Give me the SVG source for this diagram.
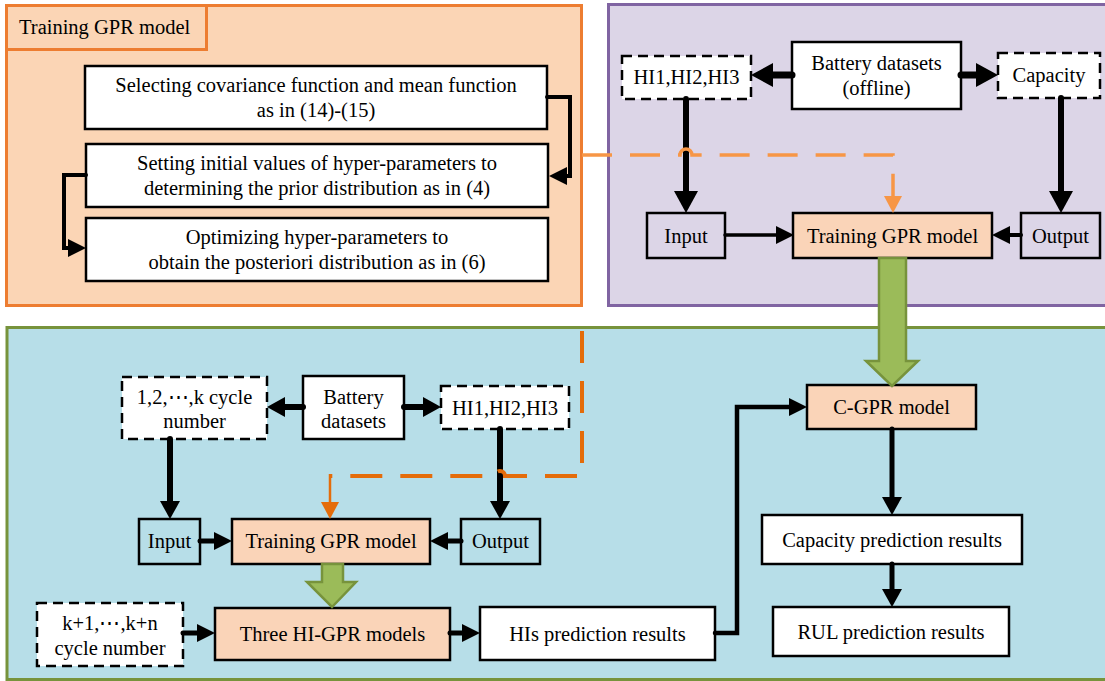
<svg xmlns="http://www.w3.org/2000/svg" width="1105" height="681" viewBox="0 0 1105 681">
<style>
text{font-family:"Liberation Serif","Times New Roman",serif;font-size:20.5px;fill:#000;text-anchor:middle}
.box{fill:#fff;stroke:#000;stroke-width:2.5}
.clear{fill:none;stroke:#000;stroke-width:2.5}
.dash{fill:#fff;stroke:#000;stroke-width:2.5;stroke-dasharray:10 6}
.peach{fill:#FAD4B8;stroke:#000;stroke-width:2.5}
.blk{fill:none;stroke:#000;stroke-linecap:round;stroke-linejoin:miter}
.green{fill:#9BBB59;stroke:#77933C;stroke-width:2.5}
</style>
<defs>
<marker id="mA" viewBox="0 -12 22 24" refX="0" refY="0" markerWidth="22" markerHeight="24" markerUnits="userSpaceOnUse" orient="auto"><path d="M0,-12L22,0L0,12Z" fill="#000"/></marker>
<marker id="mB" viewBox="0 -10 18 20" refX="0" refY="0" markerWidth="18" markerHeight="20" markerUnits="userSpaceOnUse" orient="auto"><path d="M0,-10L18,0L0,10Z" fill="#000"/></marker>
<marker id="mC" viewBox="0 -9 18 18" refX="0" refY="0" markerWidth="18" markerHeight="18" markerUnits="userSpaceOnUse" orient="auto"><path d="M0,-9L18,0L0,9Z" fill="#000"/></marker>
<marker id="mO1" viewBox="0 -9 17 18" refX="0" refY="0" markerWidth="17" markerHeight="18" markerUnits="userSpaceOnUse" orient="auto"><path d="M0,-9L17,0L0,9Z" fill="#F79646"/></marker>
<marker id="mO2" viewBox="0 -9 17 18" refX="0" refY="0" markerWidth="17" markerHeight="18" markerUnits="userSpaceOnUse" orient="auto"><path d="M0,-9L17,0L0,9Z" fill="#E46C0A"/></marker>
</defs>

<g id="panels">
<rect x="6.5" y="5.5" width="575" height="300" fill="#FBD5B5" stroke="#ED7D31" stroke-width="3"/>
<rect x="6.5" y="5.5" width="200" height="44" fill="#FBD5B5" stroke="#ED7D31" stroke-width="3"/>
<text x="19" y="34" style="text-anchor:start">Training GPR model</text>
<rect x="608.5" y="4.5" width="510" height="301" fill="#DCD5E7" stroke="#8064A2" stroke-width="3"/>
<rect x="7" y="327.5" width="1110" height="352" fill="#B7DEE8" stroke="#77933C" stroke-width="3"/>
</g>

<g id="n-select"><rect class="box" x="85" y="66" width="462" height="63"/>
<text x="316" y="92">Selecting covariance function and mean function</text><text x="316" y="117">as in (14)-(15)</text></g>
<g id="n-setting"><rect class="box" x="86" y="144" width="462" height="63"/>
<text x="317" y="170">Setting initial values of hyper-parameters to</text><text x="317" y="195">determining the prior distribution as in (4)</text></g>
<g id="n-optimize"><rect class="box" x="86" y="218" width="462" height="63"/>
<text x="317" y="244">Optimizing hyper-parameters to</text><text x="317" y="269">obtain the posteriori distribution as in (6)</text></g>

<g id="n-battery-off"><rect class="box" x="792" y="42" width="169" height="67"/>
<text x="876.5" y="70">Battery datasets</text><text x="876.5" y="95">(offline)</text></g>
<g id="n-hi-top"><rect class="dash" x="622" y="56" width="129" height="43"/><text x="686.5" y="84">HI1,HI2,HI3</text></g>
<g id="n-capacity"><rect class="dash" x="998" y="53" width="102" height="45"/><text x="1049" y="82">Capacity</text></g>
<g id="n-input-top"><rect class="clear" x="647" y="213" width="78" height="45"/><text x="686" y="243">Input</text></g>
<g id="n-train-top"><rect class="peach" x="793" y="213" width="199" height="45"/><text x="892.5" y="243">Training GPR model</text></g>
<g id="n-output-top"><rect class="clear" x="1021" y="213" width="79" height="45"/><text x="1060.5" y="243">Output</text></g>

<g id="n-cycle"><rect class="dash" x="122" y="377" width="145" height="62"/>
<text x="194.5" y="404">1,2,⋯,k cycle</text><text x="194.5" y="428">number</text></g>
<g id="n-battery"><rect class="box" x="303" y="376" width="101" height="63"/>
<text x="353.5" y="404">Battery</text><text x="353.5" y="428">datasets</text></g>
<g id="n-hi-bot"><rect class="dash" x="441" y="386" width="128" height="43"/><text x="505" y="415">HI1,HI2,HI3</text></g>
<g id="n-input-bot"><rect class="clear" x="139" y="519" width="61" height="45"/><text x="169.5" y="548">Input</text></g>
<g id="n-train-bot"><rect class="peach" x="232" y="519" width="198" height="45"/><text x="331" y="548">Training GPR model</text></g>
<g id="n-output-bot"><rect class="clear" x="461" y="519" width="79" height="45"/><text x="500.5" y="548">Output</text></g>
<g id="n-future"><rect class="dash" x="37" y="603" width="146" height="63"/>
<text x="110" y="630">k+1,⋯,k+n</text><text x="110" y="655">cycle number</text></g>
<g id="n-three"><rect class="peach" x="215" y="608" width="235" height="52"/><text x="332.5" y="641">Three HI-GPR models</text></g>
<g id="n-his"><rect class="box" x="480" y="607" width="235" height="53"/><text x="597.5" y="641">HIs prediction results</text></g>
<g id="n-cgpr"><rect class="peach" x="807" y="385" width="169" height="44"/><text x="891.5" y="414">C-GPR model</text></g>
<g id="n-cap-pred"><rect class="box" x="762" y="515" width="260" height="49"/><text x="892" y="547">Capacity prediction results</text></g>
<g id="n-rul"><rect class="box" x="773" y="607" width="236" height="49"/><text x="891" y="639">RUL prediction results</text></g>

<g id="connectors">
<path class="blk" stroke-width="4" d="M547,97H570V176H567" marker-end="url(#mC)"/>
<path class="blk" stroke-width="4" d="M86,175H64V248H68" marker-end="url(#mC)"/>

<path class="blk" stroke-width="7" d="M792,75H773" marker-end="url(#mA)"/>
<path class="blk" stroke-width="7" d="M961,75H976" marker-end="url(#mA)"/>
<path class="blk" stroke-width="6" d="M686,99V191" marker-end="url(#mA)"/>
<path class="blk" stroke-width="6" d="M1061,98V191" marker-end="url(#mA)"/>
<path class="blk" stroke-width="3.5" d="M725,235H776" marker-end="url(#mC)"/>
<path class="blk" stroke-width="4" d="M1021,235H1010" marker-end="url(#mC)"/>
<path fill="none" stroke="#F79646" stroke-width="3.5" stroke-dasharray="30 18" d="M582,155H680A6,6 0 0 1 692,155H893V196" marker-end="url(#mO1)"/>

<path class="blk" stroke-width="6" d="M303,407H285" marker-end="url(#mB)"/>
<path class="blk" stroke-width="6" d="M404,407H423" marker-end="url(#mB)"/>
<path class="blk" stroke-width="6" d="M170,439V501" marker-end="url(#mB)"/>
<path class="blk" stroke-width="6" d="M500,429V501" marker-end="url(#mB)"/>
<path class="blk" stroke-width="5" d="M200,541H214" marker-end="url(#mC)"/>
<path class="blk" stroke-width="5" d="M461,541H448" marker-end="url(#mC)"/>
<path class="blk" stroke-width="5" d="M183,633H197" marker-end="url(#mC)"/>
<path class="blk" stroke-width="5" d="M450,633H462" marker-end="url(#mC)"/>
<path class="blk" stroke-width="4.5" d="M715,633H737V407H789" marker-end="url(#mC)"/>
<path class="blk" stroke-width="5" d="M892,429V497" marker-end="url(#mB)"/>
<path class="blk" stroke-width="5" d="M892,564V589" marker-end="url(#mB)"/>
<path fill="none" stroke="#E46C0A" stroke-width="4" stroke-dasharray="32 18" d="M582,331V476H505A5,5 0 0 0 495,476H330"/>
<path fill="none" stroke="#E46C0A" stroke-width="2.5" d="M330,474V502" marker-end="url(#mO2)"/>

<path class="green" d="M879,258H906V361H918L892,386L866,361H879Z"/>
<path class="green" d="M322,564H343V582H356L332,607L307,582H322Z"/>
</g>
</svg>
